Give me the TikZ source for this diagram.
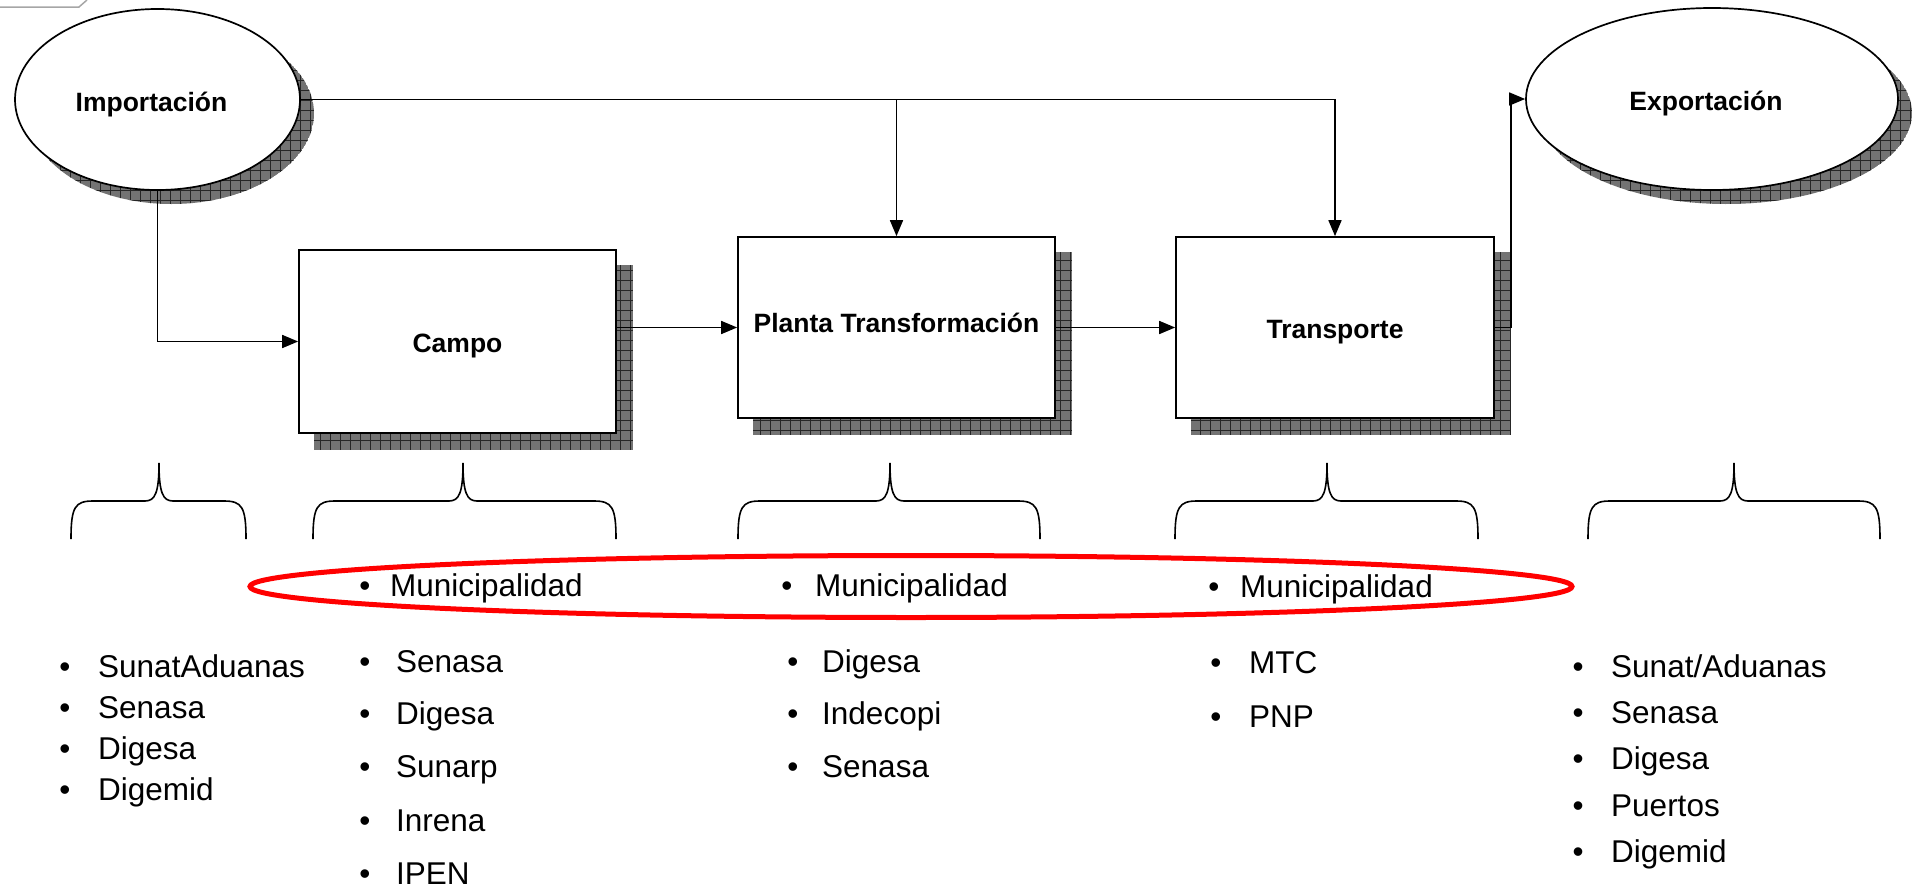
\documentclass[tikz,border=0pt]{standalone}
\usepackage{fontspec}
\setmainfont{Liberation Sans}
\usetikzlibrary{shapes.geometric,arrows.meta,backgrounds}
\newcommand\regfont{\fontsize{31.5}{36}\selectfont}
\newcommand\bfont{\fontsize{26.5}{30}\selectfont\bfseries}
\newcommand\shifttext[2]{\raisebox{#1}[\height][\depth]{#2}}
\newcommand\listentry[5]{%
  \node[bul] (#1b) at (#2,#4) {\textbullet};
  \node[itm] (#1) at (#3,#4) {#5};}
\newcommand\drawbrace[3]{%
  \draw[bracestyle] (#1,539) .. controls (#1,507) and (#1+4,501) .. (#1+22,501)
    -- (#2-14,501) .. controls (#2-4,501) and (#2,493) .. (#2,463)
    .. controls (#2,493) and (#2+4,501) .. (#2+14,501)
    -- (#3-22,501) .. controls (#3-4,501) and (#3,507) .. (#3,539);}
\newcommand\boxshadow[1]{%
  \begin{scope}
    \path[clip] ([shift={(16,16)}]#1.north west) rectangle ([shift={(16,16)}]#1.south east);
    \fill[shadowfill] ([shift={(16,16)}]#1.north west) rectangle ([shift={(16,16)}]#1.south east);
    \draw[gridline] ([shift={(16,16)}]#1.north west) grid[step=10pt] ([shift={(16,16)}]#1.south east);
  \end{scope}}
\newcommand\ovalshadow[3]{%
  \begin{scope}
    \path[clip] ([shift={(14,14)}]#1.center) ellipse [x radius=#2, y radius=#3];
    \fill[shadowfill] ([shift={(14,14)}]#1.center) ellipse [x radius=#2, y radius=#3];
    \draw[gridline] ([shift={(-#2,-#3)}]#1.center) grid[step=10pt] ([shift={(#2+30,#3+30)}]#1.center);
  \end{scope}}
\begin{document}
\begin{tikzpicture}[x=1pt,y=-1pt,
  shadowfill/.style={fill=black!55},
  gridline/.style={draw=black!85, line width=0.8pt},
  box/.style={draw, rectangle, line width=1.7pt, fill=white, inner sep=0pt, font=\bfont},
  oval/.style={draw, ellipse, line width=1.7pt, fill=white, inner sep=0pt, font=\bfont},
  arr/.style={line width=1.7pt, -{Triangle[length=16pt,width=13pt]}},
  bracestyle/.style={line width=1.6pt},
  redring/.style={draw=red, line width=5pt},
  bul/.style={anchor=base, inner sep=0pt, font=\regfont},
  itm/.style={anchor=base west, inner sep=0pt, font=\regfont}]
\useasboundingbox (0,0) rectangle (1912,889);

% top-left fragment
\draw[black!35, line width=1.5pt] (0,7) -- (79,7) -- (87,0);

% main shapes
\node[oval, minimum width=285pt, minimum height=181pt] (imp) at (157.5,99.5) {\hspace*{-12pt}\shifttext{-5pt}{Importación}};
\node[oval, minimum width=372pt, minimum height=182pt] (exp) at (1712,99) {\hspace*{-12pt}\shifttext{-5pt}{Exportación}};
\node[box, minimum width=317pt, minimum height=183pt] (campo) at (457.5,341.5) {\shifttext{-4pt}{Campo}};
\node[box, minimum width=317pt, minimum height=181pt] (plant) at (896.5,327.5) {\shifttext{5pt}{Planta Transformación}};
\node[box, minimum width=318pt, minimum height=181pt] (trans) at (1335,327.5) {\shifttext{-5pt}{Transporte}};

\begin{pgfonlayer}{background}
  \ovalshadow{imp}{142.5}{90.5}
  \ovalshadow{exp}{186}{91}
  \boxshadow{campo}
  \boxshadow{plant}
  \boxshadow{trans}
\end{pgfonlayer}

% connectors
\draw[arr] (imp.east) -| (trans.north);
\draw[arr] (imp.east -| plant.north) -- (plant.north);
\draw[arr] (imp.south) |- (campo.west);
\draw[arr] (plant.west -| campo.east) -- (plant.west);
\draw[arr] (plant.east) -- (trans.west);
\draw[arr] (trans.east) -- ++(16,0) |- (exp.west);

% braces
\drawbrace{71}{159}{246}
\drawbrace{313}{463}{616}
\drawbrace{738}{890}{1040}
\drawbrace{1175}{1327}{1478}
\drawbrace{1588}{1734}{1880}

% red ring
\draw[redring] (911,586.5) ellipse [x radius=661, y radius=31];

% lists
\listentry{ia}{65}{98}{677}{SunatAduanas}
\listentry{ib}{65}{98}{718}{Senasa}
\listentry{ic}{65}{98}{759}{Digesa}
\listentry{id}{65}{98}{800}{Digemid}

\listentry{cm}{365}{390}{596}{Municipalidad}
\listentry{ca}{365}{396}{672}{Senasa}
\listentry{cb}{365}{396}{724}{Digesa}
\listentry{cc}{365}{396}{777}{Sunarp}
\listentry{cd}{365}{396}{831}{Inrena}
\listentry{ce}{365}{396}{884}{IPEN}

\listentry{pm}{787}{815}{596}{Municipalidad}
\listentry{pa}{793}{822}{672}{Digesa}
\listentry{pb}{793}{822}{724}{Indecopi}
\listentry{pc}{793}{822}{777}{Senasa}

\listentry{tm}{1214}{1240}{597}{Municipalidad}
\listentry{ta}{1216}{1249}{673}{MTC}
\listentry{tb}{1216}{1249}{727}{PNP}

\listentry{ea}{1578}{1611}{677}{Sunat/Aduanas}
\listentry{eb}{1578}{1611}{723}{Senasa}
\listentry{ec}{1578}{1611}{769}{Digesa}
\listentry{ed}{1578}{1611}{816}{Puertos}
\listentry{ee}{1578}{1611}{862}{Digemid}
\end{tikzpicture}
\end{document}
